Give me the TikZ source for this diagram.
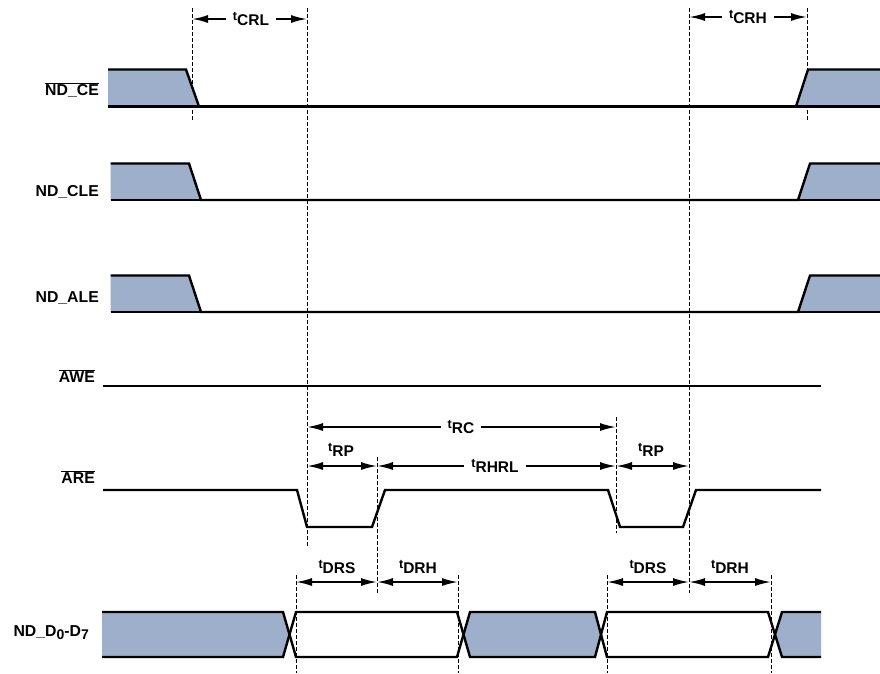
\documentclass[tikz,border=0pt]{standalone}
\usepackage{fontspec}
\setmainfont{Liberation Sans}
\usetikzlibrary{arrows.meta}
\definecolor{bleubus}{RGB}{157,175,203}
\tikzstyle{epais}           =[line width=2.4pt, line join=miter]
\tikzstyle{pointille}       =[line width=0.9pt, dash pattern=on 3.5pt off 2.5pt]
\tikzstyle{cote}            =[line width=1.8pt, -{Latex[length=16pt,width=8pt]}]
\tikzstyle{cotedouble}      =[line width=1.8pt, {Latex[length=16pt,width=8pt]}-{Latex[length=16pt,width=8pt]}]
\tikzstyle{nom}             =[anchor=east, inner sep=0pt, font=\fontsize{15.8}{18}\selectfont\bfseries]
\tikzstyle{temps}           =[inner xsep=7pt, inner ysep=2pt, font=\fontsize{15.5}{17}\selectfont\bfseries]
\newcommand{\barre}[1]{$\overline{\mbox{#1}}$}
\newcommand{\tpar}[1]{{\fontsize{12.5}{13}\selectfont t}\raisebox{-5pt}{#1}}
\newcommand{\bit}[1]{\raisebox{-3pt}{\fontsize{14}{15}\selectfont #1}}

\begin{document}
\begin{tikzpicture}[x=1pt,y=-1pt]
\useasboundingbox (0,0) rectangle (880,673);

%%%%%%%%%%%%%%%%%%%%%%%%
%Paramètres des signaux
%%%%%%%%%%%%%%%%%%%%%%%%
\def \yawe {386} %niveau de AWE
\def \areh {490} %niveau haut de ARE
\def \areb {527} %niveau bas de ARE
\def \dhaut {612} %bord haut du bus de données
\def \dbas {657} %bord bas du bus de données
\def \dmil {634.5} %milieu du bus de données

%%%%%%%%%%%%%%%%%%%%%%%%
%Lignes pointillées
%%%%%%%%%%%%%%%%%%%%%%%%
\foreach \x/\ya/\yb in {192/8/120, 307/8/547, 689/8/593, 807/8/120, 377/457/593,
    616/417/533, 296/575/673, 458/575/673, 607/575/673, 771/575/673}
  \draw[pointille] (\x,\ya) -- (\x,\yb);

%%%%%%%%%%%%%%%%%%%%%%%%
%ND_CE, ND_CLE, ND_ALE
%%%%%%%%%%%%%%%%%%%%%%%%
\foreach \yh/\yl/\xg/\xa/\xb/\xc/\xd in {69.5/106.5/108/186/199/796/808,
    163.5/200/110.5/189/201/798/810, 275.5/312/110.5/189/201/798/810}{
  \fill[bleubus] (\xg,\yh) -- (\xa,\yh) -- (\xb,\yl) -- (\xg,\yl) -- cycle;
  \fill[bleubus] (\xc,\yl) -- (\xd,\yh) -- (880,\yh) -- (880,\yl) -- cycle;
  \draw[epais] (\xg,\yh) -- (\xa,\yh) -- (\xb,\yl) -- (\xc,\yl) -- (\xd,\yh) -- (880,\yh);
  \draw[epais] (\xg,\yl) -- (880,\yl);
}

%AWE et ARE
\draw[epais] (103,\yawe) -- (821,\yawe);
\draw[epais] (103,\areh) -- (297,\areh) -- (307,\areb) -- (372,\areb) -- (385,\areh)
  -- (608,\areh) -- (620,\areb) -- (683,\areb) -- (696,\areh) -- (821,\areh);

%%%%%%%%%%%%%%%%%%%%%%%%
%Bus de données
%%%%%%%%%%%%%%%%%%%%%%%%
\fill[bleubus] (102,\dhaut) -- (283,\dhaut) -- (289.5,\dmil) -- (283,\dbas) -- (102,\dbas) -- cycle;
\fill[bleubus] (463.5,\dmil) -- (470,\dhaut) -- (595,\dhaut) -- (601,\dmil) -- (595,\dbas) -- (470,\dbas) -- cycle;
\fill[bleubus] (775,\dmil) -- (782,\dhaut) -- (821,\dhaut) -- (821,\dbas) -- (782,\dbas) -- cycle;
\draw[epais] (102,\dhaut) -- (283,\dhaut) -- (296,\dbas) -- (457,\dbas) -- (470,\dhaut) -- (595,\dhaut)
  -- (607,\dbas) -- (768,\dbas) -- (782,\dhaut) -- (821,\dhaut);
\draw[epais] (102,\dbas) -- (283,\dbas) -- (296,\dhaut) -- (457,\dhaut) -- (470,\dbas) -- (595,\dbas)
  -- (607,\dhaut) -- (768,\dhaut) -- (782,\dbas) -- (821,\dbas);

%noms des signaux
\node[nom] (nce) at (99,90) {\barre{ND\_CE}};
\node[nom] (ncle) at (99,192) {ND\_CLE};
\node[nom] (nale) at (99,298.5) {ND\_ALE};
\node[nom] (nawe) at (95,376) {\barre{AWE}};
\node[nom] (nare) at (95,477) {\barre{ARE}};
\node[nom] (ndata) at (89,633) {ND\_D\bit{0}-D\bit{7}};

%%%%%%%%%%%%%%%%%%%%%%%%
%Cotes de temps
%%%%%%%%%%%%%%%%%%%%%%%%
\coordinate (crlG) at (192,19);  \coordinate (crlD) at (307,19);
\coordinate (crhG) at (689,17);  \coordinate (crhD) at (807,17);
\coordinate (rcG) at (307,427);  \coordinate (rcD) at (616,427);
\coordinate (rhG) at (377,466);  \coordinate (rhD) at (616,466);
\coordinate (rp1G) at (307,466); \coordinate (rp2G) at (689,466);
\coordinate (dsA) at (296,582);  \coordinate (dsB) at (377,582);  \coordinate (dsC) at (458,582);
\coordinate (dsD) at (607,582);  \coordinate (dsE) at (689,582);  \coordinate (dsF) at (771,582);

\node[temps] (tcrl) at (251,19) {\tpar{CRL}};
\draw[cote] (tcrl) -- (crlG);
\draw[cote] (tcrl) -- (crlD);
\node[temps] (tcrh) at (748,17) {\tpar{CRH}};
\draw[cote] (tcrh) -- (crhG);
\draw[cote] (tcrh) -- (crhD);
\node[temps] (trc) at (461,427) {\tpar{RC}};
\draw[cote] (trc) -- (rcG);
\draw[cote] (trc) -- (rcD);
\node[temps] (trhrl) at (495,466) {\tpar{RHRL}};
\draw[cote] (trhrl) -- (rhG);
\draw[cote] (trhrl) -- (rhD);

\draw[cotedouble] (rp1G) -- (rhG);
\node[temps] (trp1) at (341,450) {\tpar{RP}};
\draw[cotedouble] (rhD) -- (rp2G);
\node[temps] (trp2) at (651,450) {\tpar{RP}};

\draw[cotedouble] (dsA) -- (dsB);
\node[temps] (tdrs1) at (337,567) {\tpar{DRS}};
\draw[cotedouble] (dsB) -- (dsC);
\node[temps] (tdrh1) at (418,567) {\tpar{DRH}};
\draw[cotedouble] (dsD) -- (dsE);
\node[temps] (tdrs2) at (648,567) {\tpar{DRS}};
\draw[cotedouble] (dsE) -- (dsF);
\node[temps] (tdrh2) at (730,567) {\tpar{DRH}};

\end{tikzpicture}
\end{document}
